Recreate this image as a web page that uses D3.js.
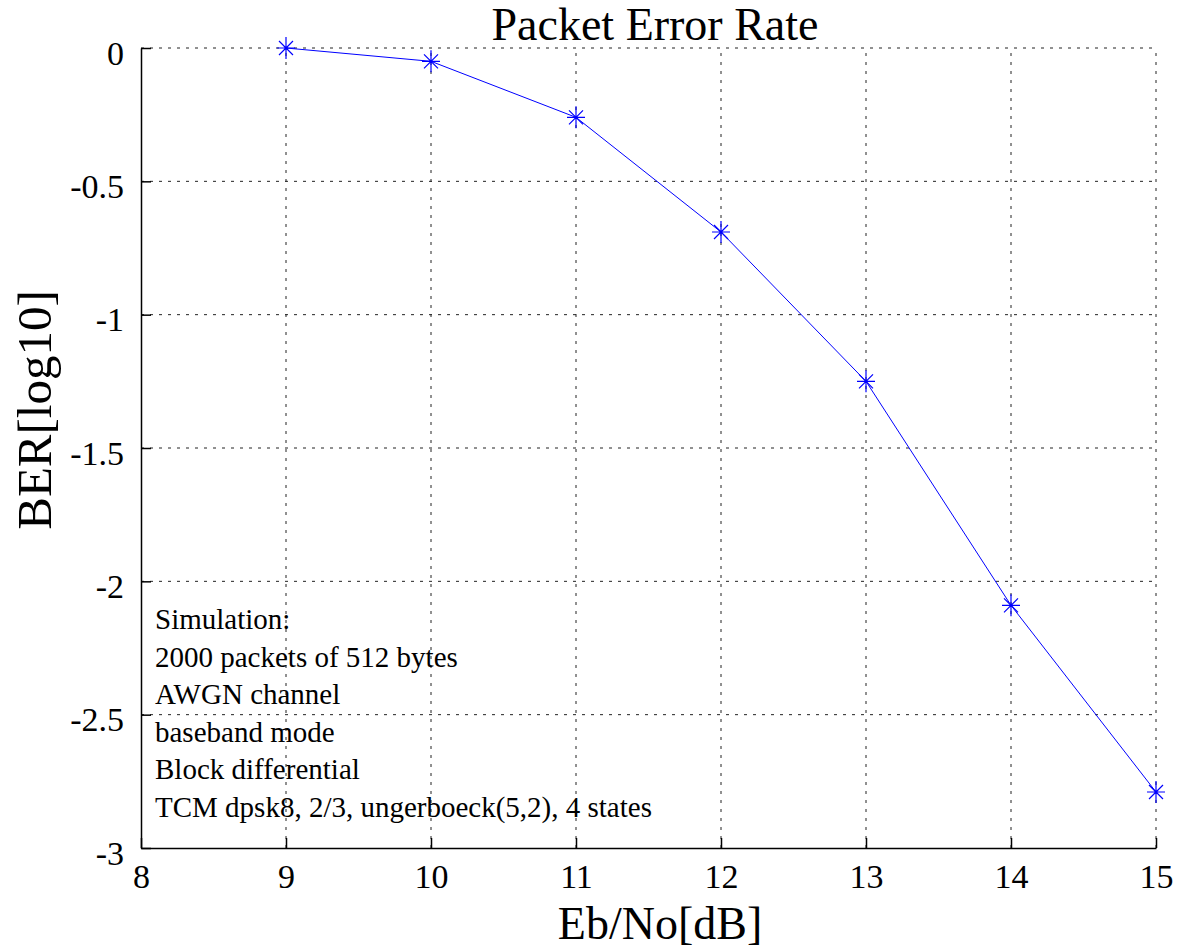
<!DOCTYPE html>
<html>
    <script src="https://d3js.org/d3.v7.min.js"></script>
    <head>
        <style>
            body { margin: 0; background: #fff; }
            text { font-family: "Liberation Serif", "Times New Roman", serif; fill: #000; }
        </style>
    </head>
    <body>
        <svg id="chart"></svg>

        <script>
            const ebno = [9, 10, 11, 12, 13, 14, 15];
            const ber = [0, -0.05, -0.26, -0.69, -1.25, -2.09, -2.79];
            const x_ticks = [8, 9, 10, 11, 12, 13, 14, 15];
            const y_ticks = [0, -0.5, -1, -1.5, -2, -2.5, -3];
            const notes = [
                "Simulation:",
                "2000 packets of 512 bytes",
                "AWGN channel",
                "baseband mode",
                "Block differential",
                "TCM dpsk8, 2/3, ungerboeck(5,2), 4 states"
            ];

            const width = 1179;
            const height = 950;
            const margin = { top: 48, right: 23, bottom: 102, left: 141 };

            const x_scale = d3.scaleLinear().domain([8, 15]).range([margin.left, width - margin.right]);
            const y_scale = d3.scaleLinear().domain([-3, 0]).range([height - margin.bottom, margin.top]);

            const svg = d3.select("#chart")
                .attr("width", width)
                .attr("height", height);

            // grid
            const grid = svg.append("g").attr("stroke", "#222").attr("stroke-dasharray", "3,6").attr("stroke-width", 1);
            grid.selectAll("line.v")
                .data(x_ticks.slice(1))
                .join("line")
                .attr("x1", d => x_scale(d)).attr("x2", d => x_scale(d))
                .attr("y1", y_scale(-3)).attr("y2", y_scale(0));
            grid.selectAll("line.h")
                .data(y_ticks.slice(0, -1))
                .join("line")
                .attr("class", "h")
                .attr("x1", x_scale(8)).attr("x2", x_scale(15))
                .attr("y1", d => y_scale(d)).attr("y2", d => y_scale(d));

            // axes
            const x_axis = d3.axisBottom(x_scale).tickValues(x_ticks).tickSizeInner(-10).tickSizeOuter(0).tickPadding(16).tickFormat(d3.format("d"));
            const y_axis = d3.axisLeft(y_scale).tickValues(y_ticks).tickSizeInner(-10).tickSizeOuter(0).tickPadding(17).tickFormat(d => d);

            svg.append("g")
                .attr("transform", `translate(0,${height - margin.bottom})`)
                .call(x_axis)
                .call(g => g.selectAll("text").attr("font-size", 34).attr("dy", "0.71em").attr("font-family", "Liberation Serif"))
                .call(g => g.selectAll("path,line").attr("stroke", "#000").attr("stroke-width", 1.5));

            svg.append("g")
                .attr("transform", `translate(${margin.left},0)`)
                .call(y_axis)
                .call(g => g.selectAll("text").attr("font-size", 34).attr("dy", "0.48em").attr("font-family", "Liberation Serif"))
                .call(g => g.selectAll("path,line").attr("stroke", "#000").attr("stroke-width", 1.5));

            // line
            const pts = ebno.map((d, i) => [d, ber[i]]);
            svg.append("path")
                .datum(pts)
                .attr("fill", "none")
                .attr("stroke", "#0000ff")
                .attr("stroke-width", 1)
                .attr("d", d3.line().x(d => x_scale(d[0])).y(d => y_scale(d[1])));

            // asterisk markers
            const mk = svg.append("g").attr("stroke", "#0000ff").attr("stroke-width", 1.2).attr("fill", "none");
            mk.selectAll("path")
                .data(pts)
                .join("path")
                .attr("transform", d => `translate(${x_scale(d[0])},${y_scale(d[1])})`)
                .attr("d", "M0,-11V11M-9,0H9M-7,-7L7,7M-7,7L7,-7");

            // notes
            svg.append("g")
                .selectAll("text")
                .data(notes)
                .join("text")
                .attr("x", 155)
                .attr("y", (d, i) => 629 + i * 37.6)
                .attr("font-size", 29)
                .text(d => d);

            svg.append("text")
                .attr("x", 655).attr("y", 40)
                .attr("text-anchor", "middle")
                .attr("font-size", 46)
                .text("Packet Error Rate");

            svg.append("text")
                .attr("x", 660).attr("y", 939)
                .attr("text-anchor", "middle")
                .attr("font-size", 46)
                .text("Eb/No[dB]");

            svg.append("text")
                .attr("transform", "translate(51,410) rotate(-90)")
                .attr("text-anchor", "middle")
                .attr("font-size", 49)
                .text("BER[log10]");
        </script>
    </body>
</html>
